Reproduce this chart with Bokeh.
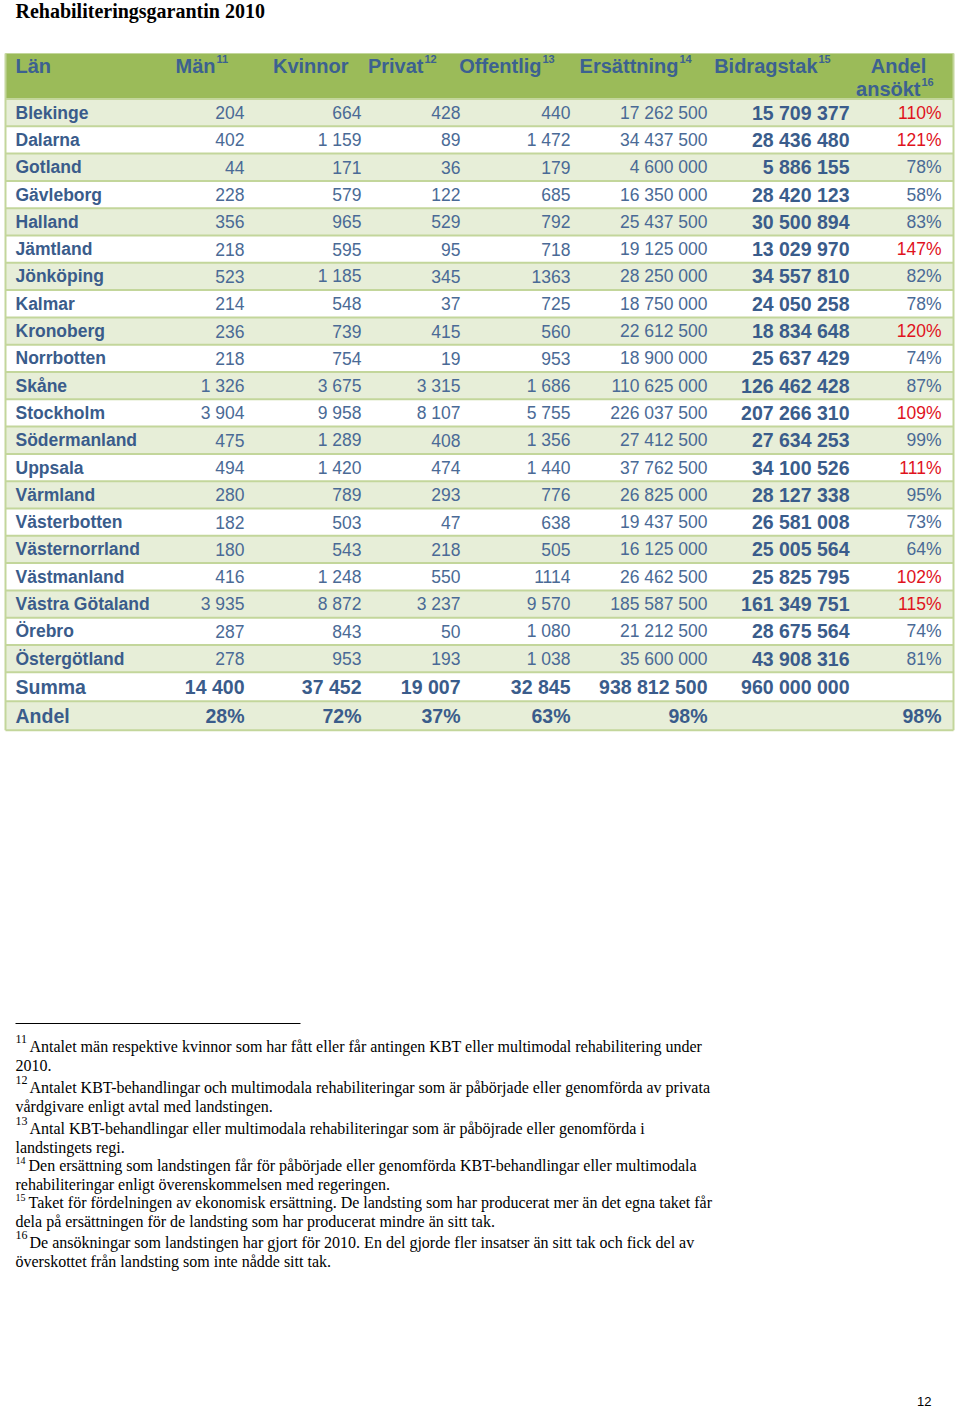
from bokeh.plotting import figure
from bokeh.models import Range1d, ColumnDataSource
from bokeh.embed import file_html
from bokeh.resources import INLINE
from bokeh.core.properties import value

# ---------------- data ----------------
title = "Rehabiliteringsgarantin 2010"
lan = ["Blekinge", "Dalarna", "Gotland", "Gävleborg", "Halland", "Jämtland", "Jönköping",
       "Kalmar", "Kronoberg", "Norrbotten", "Skåne", "Stockholm", "Södermanland", "Uppsala",
       "Värmland", "Västerbotten", "Västernorrland", "Västmanland", "Västra Götaland",
       "Örebro", "Östergötland"]
man = [204, 402, 44, 228, 356, 218, 523, 214, 236, 218, 1326, 3904, 475, 494, 280, 182, 180,
       416, 3935, 287, 278]
kvinnor = [664, 1159, 171, 579, 965, 595, 1185, 548, 739, 754, 3675, 9958, 1289, 1420, 789,
           503, 543, 1248, 8872, 843, 953]
privat = [428, 89, 36, 122, 529, 95, 345, 37, 415, 19, 3315, 8107, 408, 474, 293, 47, 218,
          550, 3237, 50, 193]
offentlig = ["440", "1 472", "179", "685", "792", "718", "1363", "725", "560", "953", "1 686",
             "5 755", "1 356", "1 440", "776", "638", "505", "1114", "9 570", "1 080", "1 038"]
ersattning = [17262500, 34437500, 4600000, 16350000, 25437500, 19125000, 28250000, 18750000,
              22612500, 18900000, 110625000, 226037500, 27412500, 37762500, 26825000,
              19437500, 16125000, 26462500, 185587500, 21212500, 35600000]
bidragstak = [15709377, 28436480, 5886155, 28420123, 30500894, 13029970, 34557810, 24050258,
              18834648, 25637429, 126462428, 207266310, 27634253, 34100526, 28127338,
              26581008, 25005564, 25825795, 161349751, 28675564, 43908316]
andel_ansokt = [110, 121, 78, 58, 83, 147, 82, 78, 120, 74, 87, 109, 99, 111, 95, 73, 64,
                102, 115, 74, 81]

headers = ["Män", "Kvinnor", "Privat", "Offentlig", "Ersättning", "Bidragstak"]
header_sup = ["11", "", "12", "13", "14", "15"]
summa_label = "Summa"
summa = ["14 400", "37 452", "19 007", "32 845", "938 812 500", "960 000 000", ""]
andel_label = "Andel"
andel_tot = ["28%", "72%", "37%", "63%", "98%", "", "98%"]

footnotes = [
    ("11", [" Antalet män respektive kvinnor som har fått eller får antingen KBT eller multimodal rehabilitering under", "2010."]),
    ("12", [" Antalet KBT-behandlingar och multimodala rehabiliteringar som är påbörjade eller genomförda av privata", "vårdgivare enligt avtal med landstingen."]),
    ("13", [" Antal KBT-behandlingar eller multimodala rehabiliteringar som är påböjrade eller genomförda i", "landstingets regi."]),
    ("14", ["Den ersättning som landstingen får för påbörjade eller genomförda KBT-behandlingar eller multimodala", "rehabiliteringar enligt överenskommelsen med regeringen."]),
    ("15", ["Taket för fördelningen av ekonomisk ersättning. De landsting som har producerat mer än det egna taket får", "dela på ersättningen för de landsting som har producerat mindre än sitt tak."]),
    ("16", [" De ansökningar som landstingen har gjort för 2010. En del gjorde fler insatser än sitt tak och fick del av", "överskottet från landsting som inte nådde sitt tak."]),
]
page_no = "12"

# ---------------- styles / layout ----------------
SANS = value("Liberation Sans")
SERIF = value("Liberation Serif")
HEAD_BG = "#9bbb59"
STRIPE = "#e7eed8"
LINE = "#c3d69b"
TXT_B = "#3a5c8b"
TXT = "#4a6a96"
HEAD_TXT = "#3c6190"
RED = "#e0121c"

W, H = 960, 1408
L, R = 5, 953
HEAD_TOP, ROW0, RH = 53, 98.5, 27.3
n = len(lan)
bounds = [ROW0 + RH * i for i in range(n + 1)]
bounds += [bounds[-1] + 29, bounds[-1] + 58]
centers = [(bounds[i] + bounds[i + 1]) / 2 for i in range(len(bounds) - 1)]
col_right = [244, 361, 460, 570, 707, 849, 941]
head_right = [215, 348, 423, 541, 678, 817]


def fmt(v):
    return f"{v:,}".replace(",", " ")


p = figure(width=W, height=H, x_range=Range1d(0, W), y_range=Range1d(H, 0),
           output_backend="svg", toolbar_location=None, x_axis_location=None,
           y_axis_location=None, min_border=0)
p.grid.visible = False
p.outline_line_color = None
p.background_fill_color = "white"
p.border_fill_color = "white"

# title
p.text(x=[15], y=[10], text=[title], text_font=SERIF, text_font_style="bold",
       text_font_size="20px", text_color="black", text_baseline="middle", text_align="left")

# header background
p.quad(left=[L], right=[R], top=[HEAD_TOP], bottom=[ROW0], fill_color=HEAD_BG, line_color=None)

# stripes
stripe_idx = [i for i in range(len(centers)) if i % 2 == 0]
p.quad(left=L, right=R, top=[bounds[i] for i in stripe_idx], bottom=[bounds[i + 1] for i in stripe_idx],
       fill_color=STRIPE, line_color=None)

# grid lines
p.segment(x0=L, x1=R, y0=bounds, y1=bounds, line_color=LINE, line_width=2)
p.segment(x0=[L, R], x1=[L, R], y0=[HEAD_TOP, HEAD_TOP], y1=[bounds[-1], bounds[-1]],
          line_color=LINE, line_width=2)
p.segment(x0=[L], x1=[R], y0=[HEAD_TOP], y1=[HEAD_TOP], line_color=LINE, line_width=1)

# header texts
HY = 65
p.text(x=[15], y=[HY], text=["Län"], text_font=SANS, text_font_style="bold",
       text_font_size="20px", text_color=HEAD_TXT, text_baseline="middle", text_align="left")
p.text(x=head_right, y=[HY] * len(headers), text=headers, text_font=SANS, text_font_style="bold",
       text_font_size="20px", text_color=HEAD_TXT, text_baseline="middle", text_align="right")
p.text(x=[h + 1 for h in head_right], y=[58] * len(headers), text=header_sup, text_font=SANS,
       text_font_style="bold", text_font_size="11px", text_color=HEAD_TXT,
       text_baseline="middle", text_align="left")
p.text(x=[898], y=[HY], text=["Andel"], text_font=SANS, text_font_style="bold",
       text_font_size="20px", text_color=HEAD_TXT, text_baseline="middle", text_align="center")
p.text(x=[920], y=[88], text=["ansökt"], text_font=SANS, text_font_style="bold",
       text_font_size="20px", text_color=HEAD_TXT, text_baseline="middle", text_align="right")
p.text(x=[921], y=[81], text=["16"], text_font=SANS, text_font_style="bold",
       text_font_size="11px", text_color=HEAD_TXT, text_baseline="middle", text_align="left")

rc = centers[:n]
# names
p.text(x=[15] * n, y=rc, text=lan, text_font=SANS, text_font_style="bold",
       text_font_size="17.5px", text_color=TXT_B, text_baseline="middle", text_align="left")
# regular numeric columns
cols = [[fmt(v) for v in man], [fmt(v) for v in kvinnor], [fmt(v) for v in privat],
        offentlig, [fmt(v) for v in ersattning]]
for ci, col in enumerate(cols):
    p.text(x=[col_right[ci]] * n, y=rc, text=col, text_font=SANS, text_font_size="17.5px",
           text_color=TXT, text_baseline="middle", text_align="right")
# bidragstak bold
p.text(x=[col_right[5]] * n, y=rc, text=[fmt(v) for v in bidragstak], text_font=SANS,
       text_font_style="bold", text_font_size="19.5px", text_color=TXT_B,
       text_baseline="middle", text_align="right")
# andel ansökt
src = ColumnDataSource(dict(x=[col_right[6]] * n, y=rc, t=[f"{v}%" for v in andel_ansokt],
                            c=[RED if v > 100 else TXT for v in andel_ansokt]))
p.text(x="x", y="y", text="t", text_color="c", source=src, text_font=SANS,
       text_font_size="17.5px", text_baseline="middle", text_align="right")

# summary rows
for label, vals, yc in [(summa_label, summa, centers[n]), (andel_label, andel_tot, centers[n + 1])]:
    p.text(x=[15], y=[yc], text=[label], text_font=SANS, text_font_style="bold",
           text_font_size="19.5px", text_color=TXT_B, text_baseline="middle", text_align="left")
    p.text(x=col_right, y=[yc] * len(vals), text=vals, text_font=SANS, text_font_style="bold",
           text_font_size="19.5px", text_color=TXT_B, text_baseline="middle", text_align="right")

# footnotes
p.segment(x0=[15], x1=[300], y0=[1023], y1=[1023], line_color="black", line_width=1)
fn_y = [1046, 1087, 1128, 1165, 1202, 1242]
for (sup, lines), y0 in zip(footnotes, fn_y):
    small = sup in ("14", "15")
    p.text(x=[15], y=[y0 - (5 if small else 8)], text=[sup], text_font=SERIF,
           text_font_size="10px" if small else "12px", text_color="black",
           text_baseline="middle", text_align="left")
    x_first = 28 if small else 29
    p.text(x=[x_first, 15], y=[y0, y0 + 19], text=lines, text_font=SERIF,
           text_font_size="16px", text_color="black", text_baseline="middle", text_align="left")

p.text(x=[931], y=[1401], text=[page_no], text_font=SANS, text_font_size="13px",
       text_color="black", text_baseline="middle", text_align="right")

open("out.html", "w").write(file_html(p, INLINE))
